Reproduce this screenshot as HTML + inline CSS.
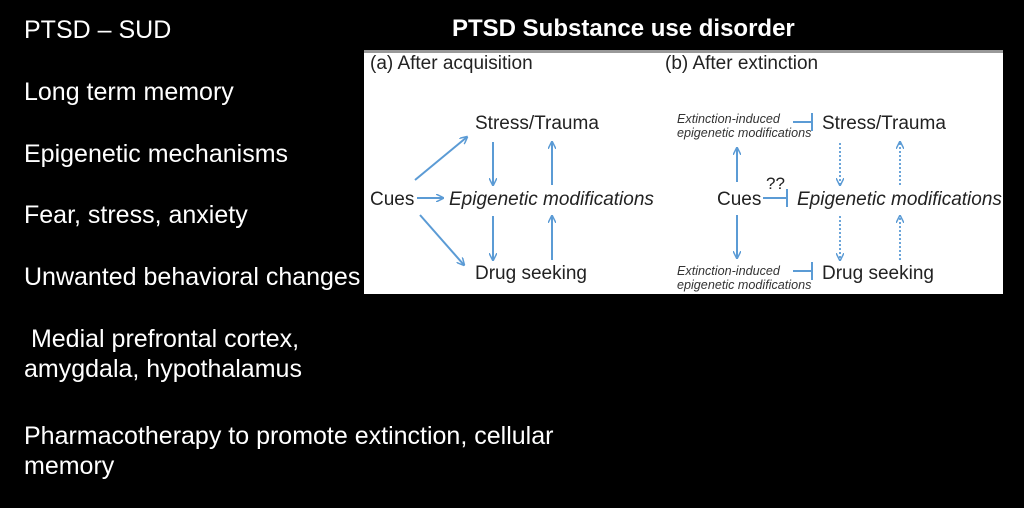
<!DOCTYPE html>
<html><head><style>
body{margin:0;width:1024px;height:508px;background:#000;overflow:hidden;position:relative;font-family:"Liberation Sans",sans-serif}
.t{position:absolute;left:24px;color:#fff;font-size:25px;line-height:30px}
</style></head><body>
<div class="t" style="top:15px">PTSD – SUD</div>
<div class="t" style="top:77px">Long term memory</div>
<div class="t" style="top:139px">Epigenetic mechanisms</div>
<div class="t" style="top:200px">Fear, stress, anxiety</div>
<div class="t" style="top:262px">Unwanted behavioral changes</div>
<div class="t" style="top:324px">&nbsp;Medial prefrontal cortex,<br>amygdala, hypothalamus</div>
<div class="t" style="top:421px">Pharmacotherapy to promote extinction, cellular<br>memory</div>
<div style="position:absolute;left:452px;top:15px;color:#fff;font-weight:bold;font-size:24px">PTSD Substance use disorder</div>
<svg style="position:absolute;left:0;top:0" width="1024" height="508">
<defs>
<marker id="a" markerWidth="8" markerHeight="8" refX="7" refY="4" orient="auto" markerUnits="userSpaceOnUse"><path d="M0,0L8,4L0,8" fill="none" stroke="#5b9bd5" stroke-width="1.5"/></marker>
</defs>
<rect x="364" y="50" width="639" height="244" fill="#fff"/>
<rect x="364" y="50" width="639" height="3" fill="#999"/>
<g font-family="Liberation Sans" font-size="19" fill="#222">
<text x="370" y="69">(a) After acquisition</text>
<text x="475" y="129">Stress/Trauma</text>
<text x="370" y="205">Cues</text>
<text x="449" y="205" font-style="italic">Epigenetic modifications</text>
<text x="475" y="279">Drug seeking</text>
<text x="665" y="69">(b) After extinction</text>
<text x="822" y="129">Stress/Trauma</text>
<text x="717" y="205">Cues</text>
<text x="766" y="189" font-size="17">??</text>
<text x="797" y="205" font-style="italic">Epigenetic modifications</text>
<text x="822" y="279">Drug seeking</text>
</g>
<g font-family="Liberation Sans" font-size="12.6" font-style="italic" fill="#333">
<text x="677" y="123">Extinction-induced</text>
<text x="677" y="137">epigenetic modifications</text>
<text x="677" y="275">Extinction-induced</text>
<text x="677" y="289">epigenetic modifications</text>
</g>
<g stroke="#5b9bd5" stroke-width="2" fill="none" marker-end="url(#a)">
<line x1="415" y1="180" x2="467" y2="137"/>
<line x1="417" y1="198" x2="443" y2="198"/>
<line x1="420" y1="215" x2="464" y2="265"/>
<line x1="493" y1="142" x2="493" y2="185"/>
<line x1="493" y1="216" x2="493" y2="260"/>
<line x1="552" y1="185" x2="552" y2="142"/>
<line x1="552" y1="260" x2="552" y2="216"/>
<line x1="737" y1="182" x2="737" y2="148"/>
<line x1="737" y1="215" x2="737" y2="258"/>
</g>
<g stroke="#5b9bd5" stroke-width="2" fill="none">
<line x1="793" y1="122" x2="812" y2="122"/><line x1="812" y1="113" x2="812" y2="131"/>
<line x1="793" y1="271" x2="812" y2="271"/><line x1="812" y1="262" x2="812" y2="280"/>
<line x1="763" y1="198" x2="787" y2="198"/><line x1="787" y1="189" x2="787" y2="207"/>
</g>
<g stroke="#5b9bd5" stroke-width="1.8" fill="none" stroke-dasharray="2,2" marker-end="url(#a)">
<line x1="840" y1="143" x2="840" y2="185"/>
<line x1="840" y1="216" x2="840" y2="260"/>
<line x1="900" y1="185" x2="900" y2="142"/>
<line x1="900" y1="260" x2="900" y2="216"/>
</g>
</svg>
</body></html>
